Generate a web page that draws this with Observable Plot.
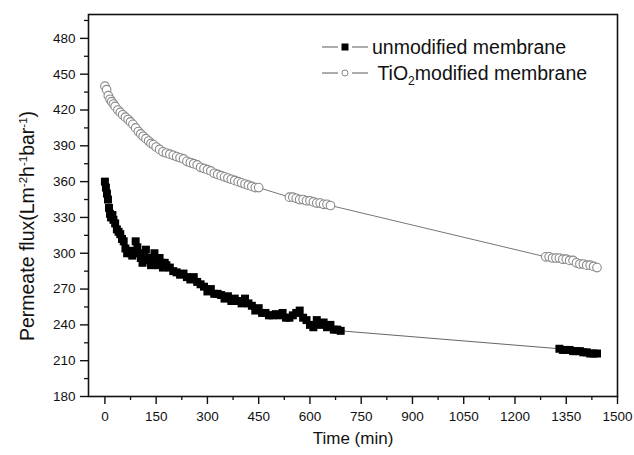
<!DOCTYPE html>
<html><head><meta charset="utf-8">
<script src="https://cdn.jsdelivr.net/npm/d3@7"></script>
<script src="https://cdn.jsdelivr.net/npm/@observablehq/plot@0.6"></script>
<style>
body{margin:0;background:#fff;font-family:"Liberation Sans",Arial,sans-serif;}
#wrap{position:relative;width:634px;height:455px;}
.lrow{position:absolute;left:320px;font-size:19.5px;color:#111;display:flex;align-items:center;white-space:nowrap;height:26px;}
#ylab{position:absolute;left:27px;top:226px;transform:translate(-50%,-50%) rotate(-90deg);font-size:19.5px;white-space:nowrap;color:#111;}
#ylab sup{font-size:11.5px;vertical-align:7px;}
.lrow sub{font-size:12px;vertical-align:-5px;line-height:0;}
</style></head>
<body><div id="wrap"></div>
<script>
// Unmodified membrane
const unT = [0,3,6,9,12,15,18,22,25,30,35,40,45,50,55,60,65,70,75,80,85,90,95,100,105,110,115,120,125,130,135,140,145,150,155,160,165,170,175,180,190,200,210,220,230,240,250,260,270,280,290,300,310,320,330,340,350,360,370,380,390,400,410,420,430,440,450,460,470,480,490,500,510,520,530,540,550,560,570,580,590,600,610,620,630,640,650,660,670,680,690,1330,1340,1350,1360,1370,1380,1390,1400,1410,1420,1430,1440];
const unV = [360,355,350,345,338,333,330,332,328,325,320,318,316,312,310,304,300,302,300,298,302,310,305,300,296,292,298,303,296,294,290,296,300,292,290,296,292,288,292,290,288,285,284,282,283,280,278,280,276,274,272,268,270,266,266,265,262,264,260,262,260,258,262,258,256,252,254,250,250,248,248,249,248,250,246,246,248,250,252,246,244,240,238,244,240,242,238,240,236,236,235,220,219,219,219,218,218,218,217,217,216,216,216];
// TiO2 modified membrane
const tiT = [0,5,10,15,20,25,30,38,45,52,60,68,75,82,90,98,105,112,120,128,135,142,150,160,170,180,190,200,210,220,230,240,250,260,270,280,290,300,310,320,330,340,350,360,370,380,390,400,410,420,430,440,450,540,550,560,570,580,590,600,610,620,630,640,650,660,1290,1300,1310,1320,1330,1340,1350,1360,1370,1380,1390,1400,1410,1420,1430,1440];
const tiV = [440,437,432,429,427,425,423,420,418,416,414,412,410,408,405,402,400,398,396,394,392,391,389,387,385,384,383,382,381,380,379,377,376,375,374,372,371,370,369,367,366,365,364,363,362,361,360,359,358,357,356,355,355,347,347,346,345,345,344,344,343,342,342,341,341,340,297,297,296,296,296,295,295,294,294,292,291,291,290,290,289,288];
const xTicks = [0,150,300,450,600,750,900,1050,1200,1350,1500];
const yTicks = [180,210,240,270,300,330,360,390,420,450,480];
const xMinor = [75,225,375,525,675,825,975,1125,1275,1425];
const yMinor = [195,225,255,285,315,345,375,405,435,465,495];

const un = unT.map((t,i)=>({t, v: unV[i]}));
const ti = tiT.map((t,i)=>({t, v: tiV[i]}));

const chart = Plot.plot({
  width: 634, height: 455,
  marginLeft: 88, marginRight: 17, marginTop: 14, marginBottom: 59,
  style: {fontFamily: '"Liberation Sans", Arial, sans-serif', fontSize: "13.5px", color: "#111", background: "#fff"},
  x: {domain: [-48, 1500]},
  y: {domain: [180, 500]},
  marks: [
    Plot.frame({stroke: "#111", strokeWidth: 1.6}),
    Plot.axisX({ticks: xTicks, tickFormat: d => String(d), tickSize: 8, tickPadding: 7, label: null, fontSize: 13.5, strokeWidth: 1.4}),
    Plot.axisX({ticks: xMinor, tickSize: 4, text: null, label: null, strokeWidth: 1.3}),
    Plot.axisY({ticks: yTicks, tickFormat: d => String(d), tickSize: 8, tickPadding: 5, label: null, fontSize: 13.5, strokeWidth: 1.4}),
    Plot.axisY({ticks: yMinor, tickSize: 4, text: null, label: null, strokeWidth: 1.3}),
    Plot.line(ti, {x: "t", y: "v", stroke: "#777", strokeWidth: 1}),
    Plot.line(un, {x: "t", y: "v", stroke: "#666", strokeWidth: 1}),
    Plot.dot(ti, {x: "t", y: "v", r: 4.3, fill: "#fff", stroke: "#888", strokeWidth: 1.1}),
    Plot.dot(un, {x: "t", y: "v", symbol: "square", r: 4.5, fill: "#000", stroke: "none"}),
    Plot.text(["Time (min)"], {frameAnchor: "bottom", dy: 47, fontSize: 17, fill: "#111"})
  ]
});
const wrap = document.getElementById("wrap");
wrap.appendChild(chart);

const ylab = document.createElement("div");
ylab.id = "ylab";
ylab.innerHTML = "Permeate flux(Lm<sup>-2</sup>h<sup>-1</sup>bar<sup>-1</sup>)";
wrap.appendChild(ylab);

const row1 = document.createElement("div");
row1.className = "lrow";
row1.style.top = "34px";
row1.innerHTML = `<svg width="52" height="12"><line x1="2" x2="18" y1="6" y2="6" stroke="#888" stroke-width="1.4"/><line x1="32" x2="48" y1="6" y2="6" stroke="#888" stroke-width="1.4"/><rect x="21.5" y="2.5" width="7" height="7" fill="#000"/></svg><span>unmodified membrane</span>`;
wrap.appendChild(row1);
const row2 = document.createElement("div");
row2.className = "lrow";
row2.style.top = "60px";
row2.innerHTML = `<svg width="52" height="12"><line x1="2" x2="18" y1="6" y2="6" stroke="#888" stroke-width="1.4"/><line x1="32" x2="48" y1="6" y2="6" stroke="#888" stroke-width="1.4"/><circle cx="25" cy="6" r="3" fill="#fff" stroke="#888"/></svg><span>&nbsp;TiO<sub>2</sub>modified membrane</span>`;
wrap.appendChild(row2);
</script>
</body></html>
